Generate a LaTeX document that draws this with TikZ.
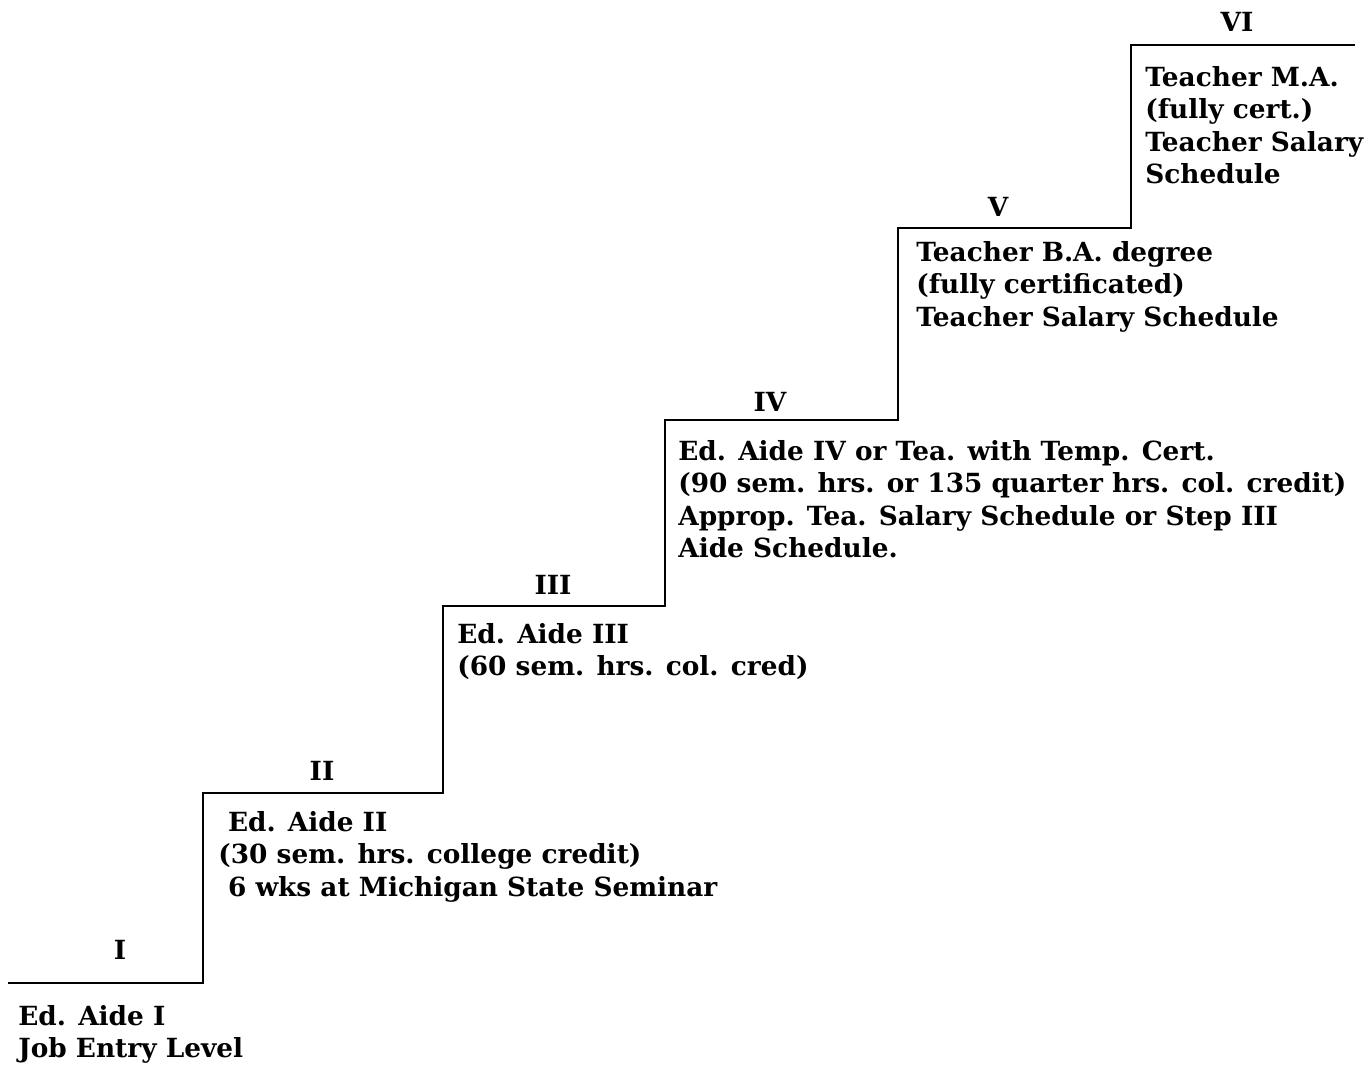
\documentclass[tikz,border=0pt]{standalone}
\usepackage{fontspec}
\setmainfont{DejaVu Serif}
\usetikzlibrary{positioning}
\tikzset{
  stair/.style={line width=1.2pt, line join=miter},
  lvl/.style={inner sep=0pt, anchor=center},
  desc/.style={inner sep=0pt, anchor=north west, align=left}
}

\begin{document}
\begin{tikzpicture}[x=0.02cm, y=-0.02cm, font=\fontsize{15}{18.4}\selectfont\bfseries]
  \useasboundingbox (0,0) rectangle (1370,1066);
  % corners of the steps
  \coordinate (s0) at (8,983);
  \coordinate (s1) at (203,983);
  \coordinate (s2) at (203,793);
  \coordinate (s3) at (443,793);
  \coordinate (s4) at (443,606);
  \coordinate (s5) at (665,606);
  \coordinate (s6) at (665,420);
  \coordinate (s7) at (898,420);
  \coordinate (s8) at (898,228);
  \coordinate (s9) at (1131,228);
  \coordinate (s10) at (1131,45);
  \coordinate (s11) at (1355,45);
  \draw[stair] (s0) -- (s1) -- (s2) -- (s3) -- (s4) -- (s5) -- (s6) -- (s7)
    -- (s8) -- (s9) -- (s10) -- (s11);

  % step numbers
  \node[lvl] (lvI) at (120,950) {I};
  \node[lvl] (lvII) at (322,771) {II};
  \node[lvl] (lvIII) at (553,585) {III};
  \node[lvl] (lvIV) at (770,402) {IV};
  \node[lvl] (lvV) at (998,207) {V};
  \node[lvl] (lvVI) at (1237,22) {VI};

  % what each step means
  \node[desc] (dI) at (18,1005) {Ed. Aide I\\Job Entry Level};
  \node[desc] (dII) at (218,811) {\hspace*{5.5pt}Ed. Aide II\\(30 sem. hrs. college credit)\\\hspace*{5.5pt}6 wks at Michigan State Seminar};
  \node[desc] (dIII) at (457,623) {Ed. Aide III\\(60 sem. hrs. col. cred)};
  \node[desc] (dIV) at (678,440) {Ed. Aide IV or Tea. with Temp. Cert.\\(90 sem. hrs. or 135 quarter hrs. col. credit)\\Approp. Tea. Salary Schedule or Step III\\Aide Schedule.};
  \node[desc] (dV) at (916,241) {Teacher B.A. degree\\(fully certificated)\\Teacher Salary Schedule};
  \node[desc] (dVI) at (1145,66) {Teacher M.A.\\(fully cert.)\\Teacher Salary\\Schedule};
\end{tikzpicture}
\end{document}
